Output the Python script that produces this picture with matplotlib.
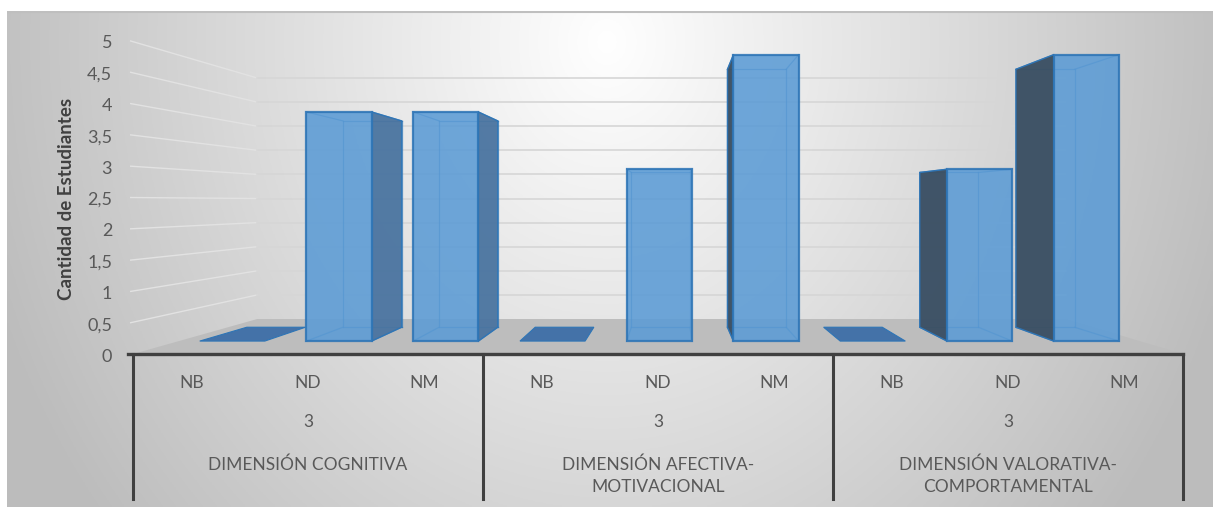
import numpy as np
import matplotlib.pyplot as plt
from matplotlib.patches import Polygon

# datos
categorias = ['NB', 'ND', 'NM', 'NB', 'ND', 'NM', 'NB', 'ND', 'NM']
valores = [0, 4, 4, 0, 3, 5, 0, 3, 5]
niveles = ['3', '3', '3']
dimensiones = ['DIMENSIÓN COGNITIVA', 'DIMENSIÓN AFECTIVA-\nMOTIVACIONAL',
               'DIMENSIÓN VALORATIVA-\nCOMPORTAMENTAL']
yticks = [0, 0.5, 1, 1.5, 2, 2.5, 3, 3.5, 4, 4.5, 5]
ytick_labels = ['0', '0,5', '1', '1,5', '2', '2,5', '3', '3,5', '4', '4,5', '5']

# perspectiva (punto de fuga en coordenadas del plano frontal)
VPX, VPY = 4.13, 2.43
S_FRONT, S_BACK, S_WALL = 0.915, 0.824, 0.77
HALF_W = 0.305

EDGE = '#2E75B6'
FACE = '#5B9BD5'
SIDE_R = '#4A74A0'
SIDE_L = '#3B5064'
FLAT = '#4472A8'
TXT = '#595959'
FONT = ['Lato', 'DejaVu Sans']


def proj(x, y, s):
    return VPX + s * (x - VPX), VPY + s * (y - VPY)


def draw_bar(ax, xc, v):
    xl, xr = xc - HALF_W, xc + HALF_W
    fl0, fr0 = proj(xl, 0, S_FRONT), proj(xr, 0, S_FRONT)
    fl1, fr1 = proj(xl, v, S_FRONT), proj(xr, v, S_FRONT)
    bl0, br0 = proj(xl, 0, S_BACK), proj(xr, 0, S_BACK)
    bl1, br1 = proj(xl, v, S_BACK), proj(xr, v, S_BACK)
    if v == 0:
        ax.add_patch(Polygon([fl0, fr0, br0, bl0], closed=True, facecolor=FLAT,
                             edgecolor=EDGE, lw=0.8, zorder=3))
        return
    # aristas interiores (se ven por la transparencia)
    for a, b in [(bl0, br0), (br0, br1), (br1, bl1), (bl1, bl0),
                 (fl0, bl0), (fr0, br0), (fl1, bl1), (fr1, br1)]:
        ax.plot([a[0], b[0]], [a[1], b[1]], color=EDGE, lw=0.9, alpha=0.7, zorder=3)
    if xc < VPX - 0.2:
        ax.add_patch(Polygon([fr0, br0, br1, fr1], closed=True, facecolor=SIDE_R,
                             edgecolor=EDGE, lw=1.0, alpha=0.95, zorder=3))
    elif xc > VPX + 0.2:
        ax.add_patch(Polygon([fl0, bl0, bl1, fl1], closed=True, facecolor=SIDE_L,
                             edgecolor=EDGE, lw=1.0, alpha=0.97, zorder=3))
    x0, y0 = proj(xc, 0, S_FRONT)
    ax.bar(x0, S_FRONT * v, width=2 * HALF_W * S_FRONT, bottom=y0, color=FACE,
           alpha=0.88, edgecolor=EDGE, linewidth=1.6, zorder=4)


fig = plt.figure(figsize=(12.13, 5.10), dpi=100)

# fondo degradado del area del grafico
bg = fig.add_axes([7 / 1213, 2 / 510, 1206 / 1213, 496 / 510], zorder=-5)
xx, yy = np.meshgrid(np.linspace(0, 1206, 400), np.linspace(0, 496, 200))
r = np.sqrt(((xx - 600) / 600) ** 2 + ((yy - 30) / 700) ** 2)
g = np.clip(1.0 - 0.24 * r, 0.74, 1.0)
bg.imshow(np.dstack([g, g, g]), extent=[0, 1206, 496, 0], aspect='auto')
bg.set_xlim(0, 1206)
bg.set_ylim(496, 0)
bg.axis('off')
bg.plot([0, 1206], [0.8, 0.8], color='#BFBFBF', lw=1.5)

ax = fig.add_axes([133 / 1213, 155 / 510, 1050 / 1213, 313 / 510])
ax.set_xlim(-0.5, 8.5)
ax.set_ylim(0, 5)
ax.patch.set_alpha(0)
for sp in ax.spines.values():
    sp.set_visible(False)

# lineas de division de la pared
for v in yticks[1:]:
    a = proj(-0.5, v, S_WALL)
    b = proj(8.5, v, S_WALL)
    ax.plot([-0.52, a[0]], [v, a[1]], color='#E2E2E2', lw=1.0, zorder=1, clip_on=False)
    ax.plot([a[0], b[0]], [a[1], b[1]], color='#D6D6D6', lw=1.2, zorder=1, clip_on=False)

# piso
piso = [proj(-0.5, 0, 1), proj(8.5, 0, 1), proj(8.5, 0, S_WALL), proj(-0.5, 0, S_WALL)]
ax.add_patch(Polygon(piso, closed=True, facecolor='#BDBDBD', edgecolor='none',
                     zorder=2, clip_on=False))

orden = sorted(range(len(valores)), key=lambda i: -abs(i - VPX))
for i in orden:
    draw_bar(ax, i, valores[i])

# eje y
ax.set_xticks([])
ax.set_yticks(yticks)
ax.set_yticklabels(ytick_labels, fontsize=13, color=TXT, family=FONT)
ax.tick_params(axis='y', length=0, pad=15)
ax.set_ylabel('Cantidad de Estudiantes', fontsize=13.5, color='#404040',
              family=FONT, fontweight='bold', labelpad=9)

# tabla de categorias
ax.plot([-0.54, 8.5], [0, 0], color='#404040', lw=2.4, clip_on=False, zorder=5)
for xd in [-0.5, 2.5, 5.5, 8.5]:
    ax.plot([xd, xd], [0, -2.32], color='#404040', lw=2.2, clip_on=False, zorder=5)
for i, c in enumerate(categorias):
    ax.text(i, -0.45, c, ha='center', va='center', fontsize=12.5, color=TXT,
            family=FONT)
for k in range(3):
    ax.text(3 * k + 1, -1.07, niveles[k], ha='center', va='center', fontsize=12.5,
            color=TXT, family=FONT)
    ax.text(3 * k + 1, -1.62, dimensiones[k], ha='center', va='top', fontsize=12.5,
            color=TXT, family=FONT, linespacing=1.5)

fig.savefig('out.png', dpi=100)
